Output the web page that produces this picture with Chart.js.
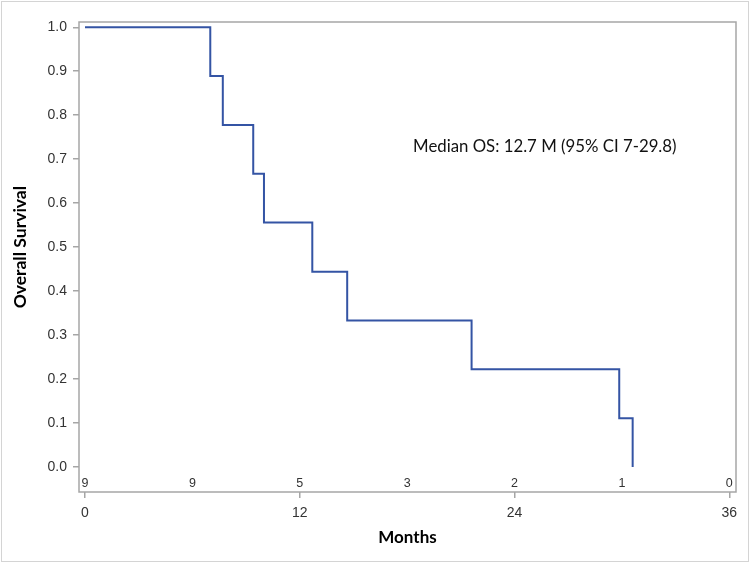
<!DOCTYPE html>
<html>
<head>
<meta charset="utf-8">
<script src="https://cdn.jsdelivr.net/npm/chart.js@4.4.1/dist/chart.umd.min.js"></script>
<style>
    html, body { margin: 0; padding: 0; background: #fff; }
    .chart-wrap { width: 750px; height: 563px; position: relative; }
</style>
</head>
<body>
<div class="chart-wrap"><canvas id="kmChart"></canvas></div>
<script>
// Kaplan-Meier data (time in months, survival after each event)
const eventMonths = [0, 7.0, 7.7, 9.4, 10.0, 12.7, 14.65, 21.6, 29.85, 30.6];
const survival = [1.0, 0.889, 0.778, 0.667, 0.556, 0.444, 0.333, 0.222, 0.111, 0.0];

// Number at risk row
const riskMonths = [0, 6, 12, 18, 24, 30, 36];
const atRisk = [9, 9, 5, 3, 2, 1, 0];

// Axis ticks
const xTicks = [0, 12, 24, 36];
const yTicks = [0, 0.1, 0.2, 0.3, 0.4, 0.5, 0.6, 0.7, 0.8, 0.9, 1.0];

const medianLabel = 'Median OS: 12.7 M (95% CI 7-29.8)';
const xTitle = 'Months';
const yTitle = 'Overall Survival';

const frameColor = '#a6a6a6';
const lineColor = '#3454a4';

// Extra drawing: plot frame, at-risk counts, annotation, y title, outer border
const kmDecor = {
    id: 'kmDecor',
    beforeDatasetsDraw(chart) {
        const { ctx, chartArea } = chart;
        ctx.save();
        ctx.strokeStyle = frameColor;
        ctx.lineWidth = 1.5;
        ctx.strokeRect(chartArea.left, chartArea.top, chartArea.right - chartArea.left, chartArea.bottom - chartArea.top);
        ctx.restore();
    },
    afterDraw(chart) {
        const { ctx, chartArea, scales } = chart;
        const xs = scales.x;
        const ys = scales.y;
        ctx.save();

        // at-risk numbers
        ctx.fillStyle = '#333';
        ctx.font = '12.5px "Liberation Sans", Arial, sans-serif';
        ctx.textAlign = 'center';
        ctx.textBaseline = 'middle';
        riskMonths.forEach((m, i) => {
            ctx.fillText(String(atRisk[i]), xs.getPixelForValue(m), chartArea.bottom - 8);
        });

        // median annotation
        ctx.fillStyle = '#111';
        ctx.font = '16.8px Lato, "Open Sans", sans-serif';
        ctx.textAlign = 'left';
        ctx.fillText(medianLabel, xs.getPixelForValue(18.33), ys.getPixelForValue(0.728));

        // y axis title, centred on the 0..1 range
        const midY = (ys.getPixelForValue(0) + ys.getPixelForValue(1)) / 2;
        ctx.translate(20, midY);
        ctx.rotate(-Math.PI / 2);
        ctx.fillStyle = '#000';
        ctx.font = 'bold 17.5px Lato, "Open Sans", sans-serif';
        ctx.textAlign = 'center';
        ctx.fillText(yTitle, 0, 0);
        ctx.setTransform(1, 0, 0, 1, 0, 0);

        // outer light border
        ctx.strokeStyle = '#d4d4d4';
        ctx.lineWidth = 1;
        ctx.strokeRect(1.5, 1.5, chart.width - 3, chart.height - 3);
        ctx.restore();
    }
};

document.addEventListener('DOMContentLoaded', () => {
    const points = eventMonths.map((m, i) => ({ x: m, y: survival[i] }));

    new Chart(document.getElementById('kmChart'), {
        type: 'line',
        data: {
            datasets: [{
                label: 'Overall Survival',
                data: points,
                borderColor: lineColor,
                borderWidth: 2,
                stepped: 'before',
                pointRadius: 0,
                fill: false
            }]
        },
        options: {
            responsive: true,
            maintainAspectRatio: false,
            animation: false,
            devicePixelRatio: 1,
            layout: { padding: { top: 22, right: 14, bottom: 0, left: 0 } },
            plugins: {
                legend: { display: false },
                tooltip: { enabled: false }
            },
            scales: {
                x: {
                    type: 'linear',
                    min: -0.335,
                    max: 36.374,
                    afterBuildTicks: (scale) => { scale.ticks = xTicks.map(v => ({ value: v })); },
                    afterFit: (scale) => { scale.height = 71; },
                    border: { display: false },
                    grid: { drawOnChartArea: false, drawTicks: true, tickLength: 6, color: frameColor, lineWidth: 1.5 },
                    ticks: {
                        color: '#333',
                        padding: 7,
                        maxRotation: 0,
                        font: { family: '"Liberation Sans", Arial, sans-serif', size: 14 },
                        callback: (v) => String(v)
                    },
                    title: {
                        display: true,
                        text: xTitle,
                        color: '#000',
                        font: { family: 'Lato, "Open Sans", sans-serif', size: 17, weight: 'bold' },
                        padding: { top: 0, bottom: 15 }
                    }
                },
                y: {
                    type: 'linear',
                    min: -0.0569,
                    max: 1.012,
                    afterBuildTicks: (scale) => { scale.ticks = yTicks.map(v => ({ value: v })); },
                    afterFit: (scale) => { scale.width = 79; },
                    border: { display: false },
                    grid: { drawOnChartArea: false, drawTicks: true, tickLength: 6, color: frameColor, lineWidth: 1.5 },
                    ticks: {
                        color: '#333',
                        padding: 6,
                        font: { family: '"Liberation Sans", Arial, sans-serif', size: 14 },
                        callback: (v) => Number(v).toFixed(1)
                    }
                }
            }
        },
        plugins: [kmDecor]
    });
});
</script>
</body>
</html>
